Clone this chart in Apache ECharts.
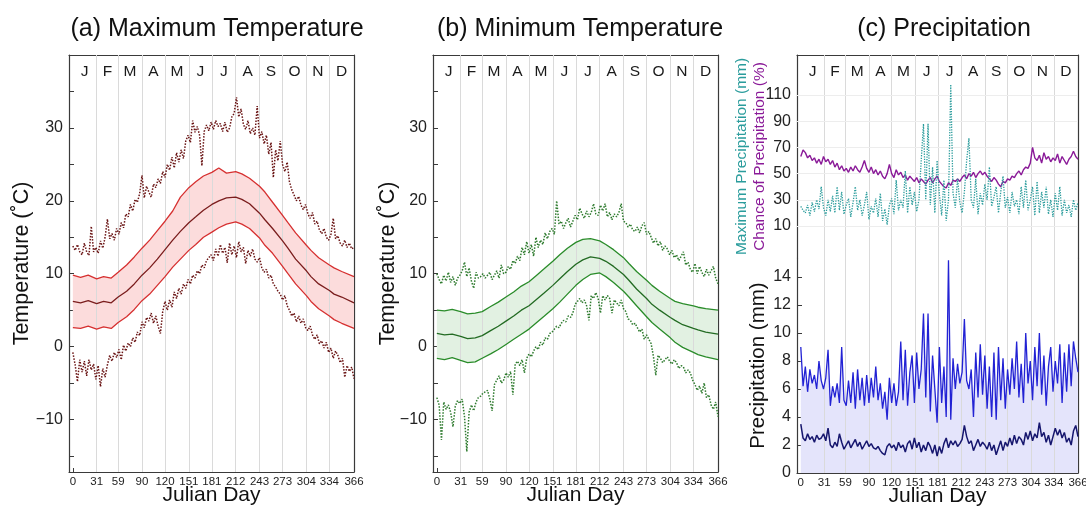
<!DOCTYPE html>
<html><head><meta charset="utf-8">
<script src="https://cdn.jsdelivr.net/npm/echarts@6/dist/echarts.min.js"></script>
<style>html,body{margin:0;padding:0;background:#fff}#c{width:1086px;height:506px}</style>
</head><body><div id="c"></div>
<script>
// ---------- ticks / categories ----------
const monthStarts = [31,59,90,120,151,181,212,243,273,304,334];
const monthMid = [15.5,45,74.5,105,135.5,166,196.5,227.5,258,288.5,319,350];
const monthLetters = ['J','F','M','A','M','J','J','A','S','O','N','D'];
const xTicks = [0,31,59,90,120,151,181,212,243,273,304,334,366];
const tempTicks = [-10,0,10,20,30];
const tempMinor = [-15,-10,-5,0,5,10,15,20,25,30,35];
const chanceTicks = [10,30,50,70,90,110];
const precipTicks = [0,2,4,6,8,10,12,14];

// ---------- days ----------
const smoothDays = [0,10,20,31,40,50,59,70,80,90,100,110,120,130,140,151,160,170,181,190,200,212,220,230,243,250,260,273,280,290,304,310,320,334,340,350,366];
const days3 = [0,3,6,9,12,15,18,21,24,27, 30,33,36,39,42,45,48,51,54,57, 60,63,66,69,72,75,78,81,84,87,
  90,93,96,99,102,105,108,111,114,117, 120,123,126,129,132,135,138,141,144,147, 150,153,156,159,162,165,168,171,174,177,
  180,183,186,189,192,195,198,201,204,207, 210,213,216,219,222,225,228,231,234,237, 240,243,246,249,252,255,258,261,264,267,
  270,273,276,279,282,285,288,291,294,297, 300,303,306,309,312,315,318,321,324,327, 330,333,336,339,342,345,348,351,354,357, 360,363,366];

// ---------- (a) maximum temperature ----------
const aMean = [6.2,6.0,6.3,5.9,6.2, 6.0,6.8,7.6,8.6,9.8, 10.8,12.0,13.3,14.6,15.8, 17.0,17.8,18.7,19.5,20.0, 20.4,20.5,20.2,19.6,18.3, 17.4,16.2,14.5,13.5,12.0, 10.4,9.6,8.6,7.7,7.2, 6.8,6.0];
const aPlus = [9.8,9.5,9.8,9.3,9.6, 9.4,10.2,11.2,12.3,13.5, 14.6,15.9,17.2,18.6,20.5, 21.8,22.6,23.4,23.9,24.5, 23.8,24.0,23.7,23.1,22.0, 21.2,19.8,18.0,17.0,15.6, 13.9,13.2,12.2,11.2,10.8, 10.3,9.6];
const aMinus = [2.6,2.5,2.8,2.4,2.7, 2.5,3.3,4.1,5.1,6.3, 7.2,8.4,9.6,10.9,12.0, 13.2,14.0,15.0,15.7,16.3, 16.8,17.1,16.8,16.2,14.9, 13.9,12.8,11.0,10.0,8.6, 7.0,6.2,5.2,4.2,3.7, 3.2,2.5];
const aHigh = [13.8,13.2,14.0,13.0,12.6,14.2,13.0,12.5,16.5,13.0,
  13.6,12.8,14.5,13.5,15.0,17.5,14.8,15.5,14.6,16.2,
  15.4,17.0,16.3,18.2,17.8,19.5,18.6,20.2,19.8,21.0,
  23.5,20.4,22.0,21.2,20.5,22.3,21.8,23.0,22.4,24.0,
  23.2,25.0,24.2,26.0,24.5,26.6,25.3,27.0,25.8,28.2,
  29.0,28.0,31.0,29.4,30.2,29.0,24.8,29.5,30.4,29.6,
  30.8,29.8,31.0,30.2,30.6,29.5,30.8,29.4,30.0,31.5,
  32.0,34.2,31.5,32.6,30.5,29.8,31.0,29.2,30.0,29.0,
  33.0,28.6,29.5,27.8,29.0,26.4,28.0,23.2,27.0,25.5,
  28.2,25.0,24.0,25.3,22.6,21.5,20.8,20.0,20.6,19.4,
  18.8,19.5,18.2,17.6,18.4,16.8,17.2,16.0,15.5,16.2,
  15.0,14.6,15.4,17.6,14.8,15.2,14.2,13.8,14.6,13.6,
  14.2,13.4,13.6];
const aLow = [-0.8,-2.5,-4.8,-1.8,-3.5,-2.0,-4.0,-1.8,-3.2,-2.4,
  -4.5,-2.6,-5.5,-3.0,-4.2,-2.5,-1.2,-2.0,-0.8,-1.5,
  -0.4,-1.8,0.2,-0.6,0.5,0.0,1.2,0.6,2.0,1.5,
  3.4,2.6,4.0,3.5,4.6,3.2,4.2,2.8,1.8,4.8,
  6.2,5.0,6.4,5.4,7.5,6.6,8.0,7.2,8.6,8.0,
  9.2,8.6,9.8,9.4,10.4,10.0,11.2,10.8,11.8,12.2,
  12.6,11.8,13.4,12.4,14.0,12.8,13.6,11.5,14.2,12.6,
  13.8,12.2,14.4,13.0,13.6,11.4,13.2,12.4,13.4,12.0,
  11.6,12.2,10.8,10.2,10.6,9.4,9.8,8.6,8.2,7.6,
  7.2,6.4,7.0,5.6,5.0,4.2,4.6,3.4,4.2,3.2,
  3.8,2.6,2.2,2.8,1.6,1.0,1.6,0.4,0.8,-0.2,
  0.6,-0.8,-0.2,-1.6,-0.6,-1.2,-2.2,-1.6,-4.2,-2.6,
  -3.4,-2.8,-4.4];

// ---------- (b) minimum temperature ----------
const bMean = [1.8,1.6,1.7,1.4,1.1, 1.2,1.5,2.2,2.8,3.5, 4.2,5.0,5.6,6.5,7.4, 8.4,9.3,10.3,11.3,11.9, 12.3,12.1,11.7,11.0,9.9, 9.1,7.9,6.6,5.8,5.0, 4.0,3.6,3.0,2.5,2.3, 2.0,1.7];
const bPlus = [5.0,4.9,5.1,4.8,4.5, 4.6,4.8,5.5,6.1,6.8, 7.5,8.3,8.9,9.8,10.7, 11.7,12.6,13.5,14.3,14.7, 14.8,14.5,14.0,13.3,12.2, 11.4,10.3,9.1,8.4,7.6, 6.6,6.2,5.9,5.6,5.4, 5.2,5.0];
const bMinus = [-1.6,-1.8,-1.5,-1.9,-2.2, -2.1,-1.6,-1.0,-0.4,0.3, 1.0,1.7,2.4,3.3,4.2, 5.2,6.1,7.2,8.4,9.2, 9.9,10.1,9.6,8.8,7.6, 6.8,5.6,4.1,3.3,2.4, 1.2,0.6,-0.1,-0.8,-1.1, -1.4,-1.8];
const bHigh = [10.0,9.2,8.6,9.8,9.0,10.2,8.8,9.6,8.4,9.4,
  9.8,10.4,11.6,9.6,10.8,9.0,8.0,10.2,9.4,9.6,
  10.0,9.4,9.8,10.2,9.2,9.8,10.4,9.4,11.2,10.0,
  10.2,11.0,10.6,11.8,11.4,12.4,11.8,13.6,12.6,14.4,
  12.8,14.0,12.4,15.0,13.6,14.6,14.0,15.6,14.8,15.8,
  16.2,15.4,20.0,16.8,17.2,16.2,17.0,17.6,16.4,17.2,
  18.0,17.4,19.0,18.2,17.6,18.6,17.8,18.4,19.6,18.2,
  18.0,19.4,18.6,19.6,17.8,18.4,17.4,18.2,17.8,18.4,
  19.6,17.2,17.0,16.4,16.8,16.0,15.8,16.4,15.6,16.6,
  17.0,15.4,15.8,15.0,14.2,14.8,13.8,14.4,13.2,13.8,
  13.4,12.6,13.2,12.2,12.6,11.8,12.4,13.0,11.2,11.6,
  10.6,10.2,11.4,10.0,11.0,10.2,9.6,10.6,9.8,10.4,
  11.0,9.4,8.6];
const bLow = [-7.0,-8.0,-12.8,-7.6,-8.6,-8.0,-9.0,-11.0,-8.2,-7.4,
  -7.8,-7.2,-9.6,-14.4,-9.0,-8.0,-8.8,-7.6,-7.0,-6.8,
  -6.4,-6.2,-6.0,-7.2,-8.8,-5.2,-4.6,-4.0,-5.0,-4.6,
  -3.6,-4.2,-3.4,-6.6,-2.4,-2.0,-2.6,-1.8,-3.6,-1.6,
  -1.0,-1.4,-0.6,0.0,-0.4,0.6,0.2,1.2,1.0,1.8,
  2.0,2.4,2.8,2.6,3.2,3.6,3.4,4.2,4.0,4.6,
  5.8,6.2,6.6,6.0,6.4,5.6,3.6,7.0,6.6,7.4,
  6.6,4.6,7.0,6.4,7.0,6.6,4.6,6.4,6.0,5.6,
  6.4,5.2,4.8,3.8,3.6,3.0,3.2,2.6,2.0,2.4,
  1.0,1.6,1.0,0.4,-1.4,-3.9,-1.2,-1.6,-2.2,-1.8,
  -1.4,-2.0,-2.4,-1.8,-2.2,-3.0,-2.6,-2.8,-3.6,-3.2,
  -3.6,-4.6,-5.2,-6.0,-5.4,-6.4,-5.0,-7.0,-6.6,-8.0,
  -8.6,-7.6,-9.6];

// ---------- (c) precipitation ----------
const chancePct = [63,68,66,62,64,60,62,58,61,57,
  63,59,61,57,60,55,58,53,56,52,
  54,51,55,52,56,53,51,55,60,54,
  51,55,50,53,49,52,48,46,50,57,
  50,47,53,49,51,47,49,45,48,46,
  44,47,43,46,44,42,45,47,43,46,
  48,44,42,40,39,43,41,45,44,46,
  44,47,49,46,50,48,51,47,50,52,
  49,51,48,46,44,47,45,42,40,44,
  43,46,45,48,47,50,52,49,53,55,
  54,58,70,62,60,64,58,66,61,63,
  59,62,60,65,58,63,60,57,61,63,
  67,63,61];
const maxPrecip = [25,22,20,26,18,28,21,30,23,40,
  24,18,30,21,33,20,40,22,36,19,
  26,31,17,28,40,22,30,18,26,36,
  15,25,20,31,17,35,14,23,11,26,
  31,19,45,22,30,24,52,20,40,26,
  36,21,30,60,88,30,88,26,55,20,
  60,34,18,45,14,30,118,35,24,46,
  28,20,36,60,77,30,24,46,19,35,
  26,42,30,55,25,32,40,20,36,48,
  24,32,20,36,25,30,19,40,24,45,
  22,30,40,18,44,20,36,24,40,19,
  30,17,35,22,40,18,30,20,26,17,
  30,22,28];
const precipHigh = [9.0,6.2,7.6,5.8,7.4,6.4,7.0,6.0,8.0,6.6,
  6.0,6.8,8.8,4.8,6.2,5.4,6.4,5.0,9.0,5.2,
  4.8,6.6,5.0,7.2,4.6,7.4,5.2,6.8,4.8,7.0,
  5.0,6.8,5.4,7.6,5.2,6.4,4.6,5.8,3.8,6.8,
  5.0,6.4,4.8,5.8,9.4,5.2,8.8,4.8,7.2,8.4,
  5.0,8.6,6.0,7.4,11.4,5.4,11.4,4.4,8.4,6.0,
  3.6,9.0,5.0,7.6,4.0,15.2,3.8,8.2,6.0,7.8,
  6.4,7.2,11.0,6.6,6.0,7.4,4.0,8.6,5.4,9.2,
  5.6,8.4,4.6,7.6,4.0,8.6,3.8,9.0,5.2,8.2,
  4.6,7.4,5.6,8.2,6.0,9.4,5.4,7.8,5.0,10.0,
  6.4,8.0,5.2,9.0,6.2,10.0,5.6,8.4,4.8,7.6,
  9.0,5.8,8.0,6.4,9.2,5.0,8.6,5.8,9.2,6.2,
  9.4,8.2,7.2];
const precipMean = [3.5,2.5,2.3,2.8,2.4,2.6,2.2,2.7,2.4,2.5,
  2.8,2.3,3.2,2.0,1.8,2.2,1.9,2.8,2.2,1.7,
  2.0,2.3,1.8,2.1,2.4,1.9,2.2,1.7,2.0,2.3,
  1.9,2.1,1.8,1.7,1.9,1.6,1.4,1.3,1.9,2.1,
  1.8,2.0,1.6,2.2,1.8,2.0,1.5,2.1,2.3,1.7,
  2.5,1.8,2.2,1.5,2.0,1.6,2.2,1.9,1.4,2.0,
  1.2,1.9,1.4,2.1,2.5,1.8,2.3,2.0,2.3,1.9,
  2.1,2.4,3.4,2.6,2.1,2.3,1.6,2.0,2.4,1.9,
  2.2,2.0,1.7,2.2,1.6,2.0,1.3,1.8,2.3,1.6,
  2.2,1.9,2.5,2.0,2.7,2.1,2.6,2.4,2.0,2.9,
  2.4,3.0,2.3,2.8,2.5,3.6,2.6,2.9,2.2,2.7,
  2.0,2.6,3.2,2.7,3.1,2.5,2.9,2.2,2.5,2.0,
  3.0,3.4,2.6];

// ---------- build ----------
const FONT = 'Liberation Sans, Arial, Helvetica, sans-serif';
const AX = '#3a3a3a';
const pairs = (xs, ys) => xs.map((x, i) => [x, ys[i]]);
const XMIN = -5, XMAX = 366;
const TMIN = -17.2, TMAX = 40;
const UMIN = -14.4, UMAX = 140.5;
const PMIN = 0, PMAX = 15.36;

const grids = [
  {left: 69, top: 55, width: 285, height: 417, outerBoundsMode: 'none', containLabel: false},
  {left: 433, top: 55, width: 285, height: 417, outerBoundsMode: 'none', containLabel: false},
  {left: 797, top: 55, width: 281, height: 203, outerBoundsMode: 'none', containLabel: false},
  {left: 797, top: 258, width: 281, height: 215, outerBoundsMode: 'none', containLabel: false}
];

function bottomX(g, visible) {
  return {
    type: 'value', gridIndex: g, min: XMIN, max: XMAX, position: 'bottom', show: visible,
    axisLine: {show: true, onZero: false, lineStyle: {color: AX, width: 1.2}},
    axisTick: {show: true, inside: true, length: 4, customValues: xTicks, lineStyle: {color: AX}},
    axisLabel: {show: true, customValues: xTicks, fontSize: 11.5, color: '#222', margin: 4, fontFamily: FONT},
    splitLine: {show: false},
    name: 'Julian Day', nameLocation: 'middle', nameGap: 13, nameMoveOverlap: false,
    nameTextStyle: {fontSize: 21, color: '#111', fontFamily: FONT}
  };
}
function topX(g) {
  return {
    type: 'value', gridIndex: g, min: XMIN, max: XMAX, position: 'top',
    axisLine: {show: true, onZero: false, lineStyle: {color: AX, width: 1.2}},
    axisTick: {show: false},
    axisLabel: {show: true, inside: true, customValues: monthMid, margin: 9, fontSize: 15.5, color: '#1a1a1a', fontFamily: FONT,
      formatter: v => { let k = 0, best = 1e9; monthMid.forEach((m, i) => { if (Math.abs(m - v) < best) { best = Math.abs(m - v); k = i; } }); return monthLetters[k]; }},
    splitLine: {show: false}
  };
}
function tempY(g, gap) {
  return {
    type: 'value', gridIndex: g, min: TMIN, max: TMAX, position: 'left',
    axisLine: {show: true, onZero: false, lineStyle: {color: AX, width: 1.2}},
    axisTick: {show: true, inside: true, length: 5, customValues: tempMinor, lineStyle: {color: AX}},
    axisLabel: {show: true, customValues: tempTicks, fontSize: 16, color: '#222', margin: 6, fontFamily: FONT,
      formatter: v => v < 0 ? '\u2212' + Math.abs(v) : String(v)},
    splitLine: {show: false},
    name: 'Temperature (\u02DAC)', nameLocation: 'middle', nameGap: gap, nameMoveOverlap: false,
    nameTextStyle: {fontSize: 21.5, color: '#111', fontFamily: FONT}
  };
}
function rightY(g, mn, mx) {
  return {
    type: 'value', gridIndex: g, min: mn, max: mx, position: 'right',
    axisLine: {show: true, onZero: false, lineStyle: {color: AX, width: 1.2}},
    axisTick: {show: false}, axisLabel: {show: false}, splitLine: {show: false}
  };
}
const monthLineData = monthStarts.map(d => ({xAxis: d}));
function monthLines(extra) {
  return {
    silent: true, symbol: ['none', 'none'], label: {show: false}, z: 2,
    lineStyle: {color: '#dadada', width: 1, type: 'solid'},
    data: monthLineData.concat(extra || [])
  };
}
function line(name, xi, yi, data, color, width, type, z, extra) {
  return Object.assign({
    name, type: 'line', xAxisIndex: xi, yAxisIndex: yi, data,
    symbol: 'none', showSymbol: false, silent: true, z: z || 3,
    lineStyle: {color, width, type: type || 'solid'}
  }, extra || {});
}
// filled band between two lines, drawn through the axes' scales
function band(name, xi, yi, days, lo, hi, color) {
  return {
    name, type: 'custom', xAxisIndex: xi, yAxisIndex: yi, silent: true, z: 1,
    data: days.map((d, i) => [d, lo[i], hi[i]]),
    encode: {x: 0, y: [1, 2]},
    renderItem: (params, api) => {
      if (params.dataIndex !== 0) return null;
      const pts = [];
      for (let i = 0; i < days.length; i++) pts.push(api.coord([days[i], hi[i]]));
      for (let i = days.length - 1; i >= 0; i--) pts.push(api.coord([days[i], lo[i]]));
      return {type: 'polygon', shape: {points: pts}, style: {fill: color}};
    }
  };
}

const series = [
  // (a)
  band('aBand', 0, 0, smoothDays, aMinus, aPlus, '#fcdcdc'),
  line('aHigh', 0, 0, pairs(days3, aHigh), '#6a1414', 1.5, 'dotted', 4, {markLine: monthLines()}),
  line('aLow', 0, 0, pairs(days3, aLow), '#6a1414', 1.5, 'dotted', 4),
  line('aPlus', 0, 0, pairs(smoothDays, aPlus), '#d63030', 1.3, 'solid', 5),
  line('aMinus', 0, 0, pairs(smoothDays, aMinus), '#d63030', 1.3, 'solid', 5),
  line('aMean', 0, 0, pairs(smoothDays, aMean), '#7a1d1d', 1.3, 'solid', 5),
  // (b)
  band('bBand', 2, 2, smoothDays, bMinus, bPlus, '#e2f1e2'),
  line('bHigh', 2, 2, pairs(days3, bHigh), '#2d7a2d', 1.5, 'dotted', 4, {markLine: monthLines()}),
  line('bLow', 2, 2, pairs(days3, bLow), '#2d7a2d', 1.5, 'dotted', 4),
  line('bPlus', 2, 2, pairs(smoothDays, bPlus), '#2a8c2a', 1.3, 'solid', 5),
  line('bMinus', 2, 2, pairs(smoothDays, bMinus), '#2a8c2a', 1.3, 'solid', 5),
  line('bMean', 2, 2, pairs(smoothDays, bMean), '#236b23', 1.3, 'solid', 5),
  // (c) upper
  line('chance', 5, 4, pairs(days3, chancePct), '#8a1a98', 1.4, 'solid', 4,
    {markLine: monthLines(chanceTicks.map(v => ({yAxis: v, lineStyle: {color: '#ededed'}})))}),
  line('maxPrecip', 5, 5, pairs(days3, maxPrecip), '#2a9c9c', 1.3, 'dotted', 5),
  // (c) lower
  line('precipFill', 6, 7, pairs(days3, precipHigh), '#000', 0, 'solid', 1,
    {lineStyle: {opacity: 0}, areaStyle: {color: '#e4e4fb', opacity: 1, origin: 'start'}}),
  line('precipHigh', 6, 7, pairs(days3, precipHigh), '#2222d4', 1.3, 'solid', 4, {markLine: monthLines()}),
  line('precipMean', 6, 7, pairs(days3, precipMean), '#16166e', 1.5, 'solid', 5)
];

const titleStyle = {fontSize: 25, fontWeight: 'normal', color: '#111', fontFamily: FONT};
const option = {
  animation: false,
  backgroundColor: '#fff',
  textStyle: {fontFamily: FONT},
  title: [
    {text: '(a) Maximum Temperature', left: 212, top: 12, textAlign: 'center', textStyle: titleStyle},
    {text: '(b) Minimum Temperature', left: 575, top: 12, textAlign: 'center', textStyle: titleStyle},
    {text: '(c) Precipitation', left: 939, top: 12, textAlign: 'center', textStyle: titleStyle}
  ],
  grid: grids,
  xAxis: [bottomX(0, true), topX(0), bottomX(1, true), topX(1), bottomX(2, false), topX(2), bottomX(3, true)],
  yAxis: [
    tempY(0, 36), rightY(0, TMIN, TMAX),
    tempY(1, 34), rightY(1, TMIN, TMAX),
    {
      type: 'value', gridIndex: 2, min: UMIN, max: UMAX, position: 'left',
      axisLine: {show: true, onZero: false, lineStyle: {color: AX, width: 1.2}},
      axisTick: {show: true, inside: true, length: 5, customValues: chanceTicks, lineStyle: {color: AX}},
      axisLabel: {show: true, customValues: chanceTicks, fontSize: 16, color: '#222', margin: 6, fontFamily: FONT},
      splitLine: {show: false},
      name: 'Chance of Precipitation (%)', nameLocation: 'middle', nameGap: 29, nameMoveOverlap: false,
      nameTextStyle: {fontSize: 15.5, color: '#8a1a98', fontFamily: FONT}
    },
    {
      type: 'value', gridIndex: 2, min: UMIN, max: UMAX, position: 'left',
      axisLine: {show: false}, axisTick: {show: false}, axisLabel: {show: false}, splitLine: {show: false},
      name: 'Maximum Precipitation (mm)', nameLocation: 'middle', nameGap: 47, nameMoveOverlap: false,
      nameTextStyle: {fontSize: 15.5, color: '#2a9c9c', fontFamily: FONT}
    },
    rightY(2, UMIN, UMAX),
    {
      type: 'value', gridIndex: 3, min: PMIN, max: PMAX, position: 'left',
      axisLine: {show: true, onZero: false, lineStyle: {color: AX, width: 1.2}},
      axisTick: {show: true, inside: true, length: 5, customValues: precipTicks, lineStyle: {color: AX}},
      axisLabel: {show: true, customValues: precipTicks, fontSize: 16, color: '#222', margin: 6, fontFamily: FONT},
      splitLine: {show: false},
      name: 'Precipitation (mm)', nameLocation: 'middle', nameGap: 28,
      nameTextStyle: {fontSize: 20.5, color: '#111', fontFamily: FONT}
    },
    rightY(3, PMIN, PMAX)
  ],
  series
};
const chart = echarts.init(document.getElementById('c'), null, {renderer: 'canvas'});
chart.setOption(option);
</script>
</body></html>
